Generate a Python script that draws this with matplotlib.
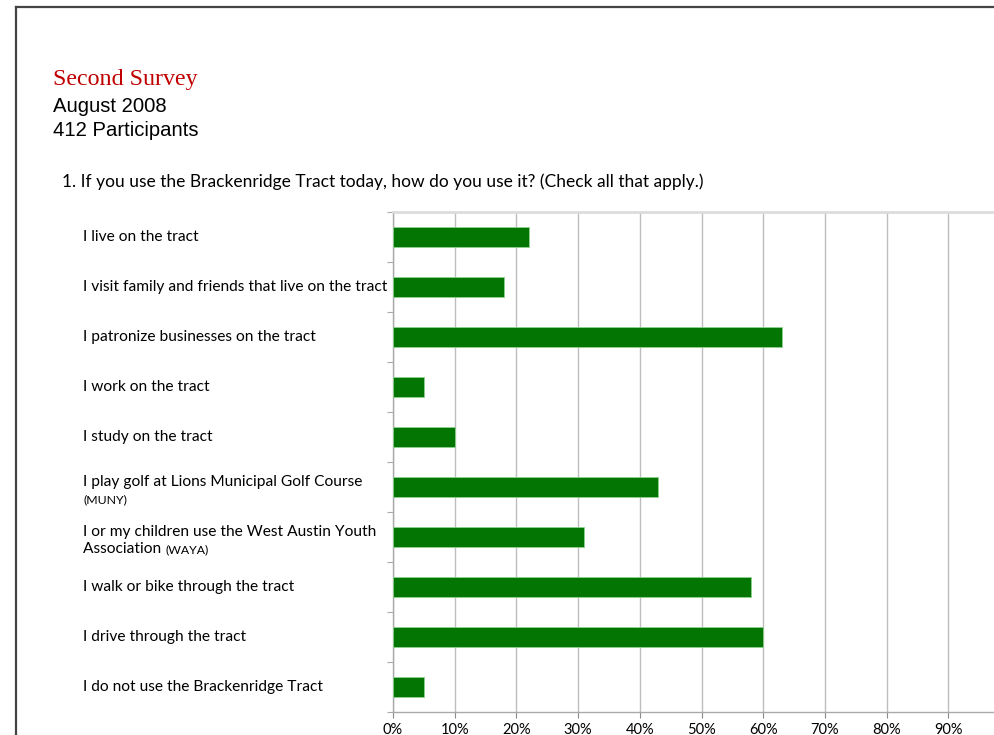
import matplotlib
matplotlib.use("Agg")
import matplotlib.pyplot as plt
import matplotlib.transforms as mtransforms
from matplotlib.lines import Line2D
import numpy as np

categories = [
    "I live on the tract",
    "I visit family and friends that live on the tract",
    "I patronize businesses on the tract",
    "I work on the tract",
    "I study on the tract",
    "I play golf at Lions Municipal Golf Course",
    "I or my children use the West Austin Youth",
    "I walk or bike through the tract",
    "I drive through the tract",
    "I do not use the Brackenridge Tract",
]
# second-line text for two-line labels: (normal part, small part)
second_lines = {
    5: ("", "(MUNY)"),
    6: ("Association ", "(WAYA)"),
}
values = [22, 18, 63, 5, 10, 43, 31, 58, 60, 5]
xticks = [0, 10, 20, 30, 40, 50, 60, 70, 80, 90]
xticklabels = ["0%", "10%", "20%", "30%", "40%", "50%", "60%", "70%", "80%", "90%"]

W, H = 994, 735
fig = plt.figure(figsize=(W / 100, H / 100), dpi=100)
fig.patch.set_facecolor("white")

LABEL_FONT = "Lato"

# page border
fig.add_artist(Line2D([16 / W, 16 / W], [0, 1 - 7 / H], transform=fig.transFigure,
                      color="#444444", lw=1.6))
fig.add_artist(Line2D([16 / W, 1], [1 - 7 / H, 1 - 7 / H], transform=fig.transFigure,
                      color="#444444", lw=1.6))

# headings
fig.text(53 / W, 1 - 79 / H, "Second Survey", color="#c00000", family="Liberation Serif",
         fontsize=17.3, va="center", ha="left")
fig.text(53 / W, 1 - 106 / H, "August 2008", color="black", family="Liberation Sans",
         fontsize=14.6, va="center", ha="left")
fig.text(53 / W, 1 - 131 / H, "412 Participants", color="black", family="Liberation Sans",
         fontsize=14.6, va="center", ha="left")
fig.text(62 / W, 1 - 182 / H,
         "1. If you use the Brackenridge Tract today, how do you use it? (Check all that apply.)",
         color="black", family=LABEL_FONT, fontsize=12.5, va="center", ha="left")

left = 393 / W
right = 1010 / W
bottom = (H - 712) / H
top = (H - 212) / H
ax = fig.add_axes([left, bottom, right - left, top - bottom])

n = len(categories)
y = np.arange(n)
ax.barh(y, values, height=0.4, color="#027502", edgecolor="#8fd08f", linewidth=0.6, zorder=3)
ax.set_ylim(n - 0.5, -0.5)
ax.set_xlim(0, 100)

ax.set_xticks(xticks)
ax.set_xticklabels(xticklabels, family=LABEL_FONT, fontsize=10.5)
ax.tick_params(axis="x", length=4, color="#888888", pad=4)
ax.set_yticks(np.arange(n + 1) - 0.5)
ax.set_yticklabels([])
ax.tick_params(axis="y", length=4, color="#aaaaaa", direction="out")
ax.set_xticks([100], minor=True)
ax.xaxis.grid(True, which="both", color="#bdbdbd", linewidth=1.0, zorder=0)
ax.set_axisbelow(True)

ax.spines["right"].set_visible(False)
ax.spines["top"].set_color("#dcdcdc")
ax.spines["top"].set_linewidth(2.0)
ax.spines["left"].set_color("#aaaaaa")
ax.spines["left"].set_linewidth(1.0)
ax.spines["bottom"].set_color("#aaaaaa")
ax.spines["bottom"].set_linewidth(1.0)

# category labels
trans = mtransforms.blended_transform_factory(fig.transFigure, ax.transData)
lx = 83 / W
fig.canvas.draw()
renderer = fig.canvas.get_renderer()
for i, cat in enumerate(categories):
    if i in second_lines:
        normal, small = second_lines[i]
        ax.text(lx, i - 0.1, cat, transform=trans, family=LABEL_FONT, fontsize=11.2,
                va="center", ha="left", clip_on=False)
        sx = lx
        if normal:
            t = ax.text(lx, i + 0.24, normal, transform=trans, family=LABEL_FONT,
                        fontsize=11.2, va="center", ha="left", clip_on=False)
            bb = t.get_window_extent(renderer=renderer)
            sx = bb.x1 / W
        ax.text(sx, i + 0.25, small, transform=trans, family=LABEL_FONT, fontsize=8.8,
                va="center", ha="left", clip_on=False)
    else:
        ax.text(lx, i, cat, transform=trans, family=LABEL_FONT, fontsize=11.2,
                va="center", ha="left", clip_on=False)

fig.savefig("out.png", dpi=100, facecolor="white")
